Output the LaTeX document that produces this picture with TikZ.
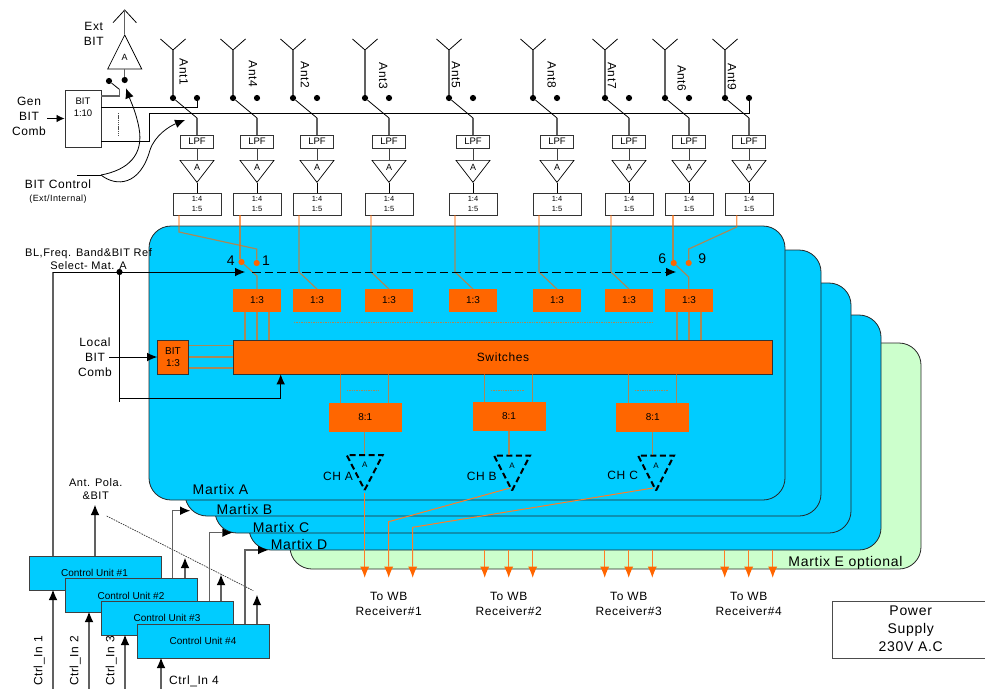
\documentclass[tikz,border=0pt]{standalone}
\usepackage{fontspec}
\setmainfont{Liberation Sans}
\newfontfamily\widefont[LetterSpace=5]{Liberation Sans}
\usepackage{xcolor}
\usetikzlibrary{shapes.geometric,arrows.meta,positioning,calc}
\definecolor{matblue}{HTML}{00CCFF}
\definecolor{matgreen}{HTML}{CCFFCC}
\definecolor{boxorange}{HTML}{FF6600}
\newcommand{\wf}[2]{\fontsize{#1}{#2}\widefont}
\newcommand{\pf}[2]{\fontsize{#1}{#2}\selectfont}

\begin{document}
\begin{tikzpicture}[
  x=1pt,y=-1pt,
  font=\pf{10}{12},
  matbox/.style={draw=black!85,line width=.8pt,rounded corners=22pt,inner sep=0pt},
  whitebox/.style={draw=black!80,line width=.9pt,fill=white,align=center,inner sep=0pt},
  lpf/.style={whitebox,minimum width=33pt,minimum height=13pt,font=\pf{9.5}{11}},
  splitbox/.style={whitebox,minimum width=48pt,minimum height=22pt,font=\pf{7.5}{9.7}},
  tapbox/.style={fill=boxorange,align=center,inner sep=0pt,minimum width=48.5pt,minimum height=22.5pt},
  mixbox/.style={fill=boxorange,inner sep=0pt,minimum width=73pt,minimum height=29pt},
  ctrlbox/.style={draw=black!75,line width=.9pt,fill=matblue,inner sep=0pt,minimum width=132pt,minimum height=34pt},
  amp/.style={draw,line width=.7pt,isosceles triangle,isosceles triangle stretches,shape border rotate=270,
    minimum width=34pt,minimum height=22pt,inner sep=0pt,font=\pf{9}{9}},
  champ/.style={amp,minimum width=36pt,minimum height=35pt,line width=2pt,dash pattern=on 6pt off 3.5pt,font=\pf{8}{8}},
  dotnode/.style={circle,fill=black,inner sep=0pt,minimum size=6.2pt},
  odot/.style={circle,fill=boxorange,inner sep=0pt,minimum size=6.2pt},
  thin line/.style={line width=.8pt},
  gline/.style={draw=black!62,line width=1.1pt},
  oline/.style={draw=boxorange,draw opacity=.65,line width=1.2pt},
  odash/.style={oline,dash pattern=on 1.4pt off 1pt},
  arr/.style={-{Latex[length=10pt,width=8.5pt,fill=black,line width=0pt]}},
  outarr/.style={draw=boxorange!85!white,line width=1pt,-{Latex[length=11pt,width=9pt,fill=boxorange,line width=0pt]}},
  txt/.style={inner sep=0pt,align=center,font=\wf{12}{15}}
]
\useasboundingbox (0,0) rectangle (985,688);

% five matrices, back to front
\node[matbox,fill=matgreen,minimum width=631pt,minimum height=226pt] (matE) at (605.5,456) {};
\node[matbox,fill=matblue,minimum width=632pt,minimum height=235pt] (matD) at (565,432.5) {};
\node[matbox,fill=matblue,minimum width=636pt,minimum height=250pt] (matC) at (533,408) {};
\node[matbox,fill=matblue,minimum width=636pt,minimum height=266pt] (matB) at (503,383) {};
\node[matbox,fill=matblue,minimum width=636pt,minimum height=274pt] (matA) at (467,363) {};
\node[txt,font=\wf{14}{15}] (labA) at (220.5,489) {Martix A};
\node[txt,font=\wf{14}{15}] (labB) at (244.5,509) {Martix B};
\node[txt,font=\wf{14}{15}] (labC) at (281,527) {Martix C};
\node[txt,font=\wf{14}{15}] (labD) at (299,544) {Martix D};
\node[txt,font=\wf{14}{15}] (labE) at (845.5,563) {Martix E optional};

% antenna columns
\foreach \n/\c/\lx/\ly in {1/197/183.7/72,4/257/253/74,2/317/305/74.7,3/389/383.3/75.7,5/473/456/74.7,8/557/551.7/75,7/629/612/75.5,6/689/681.7/78.3,9/749/732/77}{
  \coordinate (ant\n) at (\c-24,50);
  \node[dotnode] (dl\n) at (\c-24,98) {};
  \node[dotnode] (dr\n) at (\c,98) {};
  \coordinate (arm\n) at (\c,118);
  \node[lpf] (lpf\n) at (\c,141.5) {LPF};
  \node[amp,anchor=lower side] (amp\n) at (\c,160) {\raisebox{2.5pt}{A}};
  \node[splitbox] (split\n) at (\c,204) {1:4\\1:5};
  \node[txt,rotate=-90] (antlab\n) at (\lx,\ly) {Ant\n};
  \draw[thin line] (ant\n) -- ++(-12.5,-11) (ant\n) -- ++(12.5,-11);
  \draw[gline] (ant\n) -- (dl\n);
  \draw[thin line] (dl\n) -- (arm\n);
  \draw[gline] (arm\n) -- (lpf\n);
  \draw[thin line,black!75] (lpf\n) -- (amp\n.lower side);
  \draw[thin line] (amp\n.apex) -- (split\n);
}

% test source
\coordinate (extant) at (124.7,10);
\node[amp,shape border rotate=90,anchor=apex,minimum height=34pt] (extamp) at (124.7,34) {\raisebox{2.5pt}{A}};
\node[dotnode] (extl) at (109,81) {};
\node[dotnode] (extr) at (124.7,80) {};
\node[whitebox,minimum width=36pt,minimum height=57pt,font=\pf{9.5}{11.7}] (bitgen) at (83,118.5) {BIT\\1:10\\[11pt]};
\node[txt] (extlab) at (93.7,34) {Ext\\BIT};
\node[txt] (genlab) at (29,116.7) {Gen\\BIT\\Comb};
\node[txt] (ctrllab) at (58,184.7) {BIT Control};
\node[txt,font=\wf{9}{10}] (ctrlsub) at (58,198.7) {(Ext/Internal)};
\coordinate (genin) at (47.3,118.5);
\coordinate (ctrlin) at (77,175);
\coordinate (ctrlfork) at (101,175);
\coordinate (extarm) at (119.3,89.3);
\coordinate (extbend) at (119.3,96);
\coordinate (toright1) at (101,107.5);
\coordinate (toright2) at (101,141.7);
\coordinate (busin) at (149,141.7);
\coordinate (bustop) at (149,113);
\coordinate (busend) at (749,113);
\coordinate (dot1) at (118.5,113);
\coordinate (dot2) at (118.5,136);
\draw[thin line] (extant) ++(-11.7,12.7) -- (extant) -- ++(11.7,12.7);
\draw[gline] (extant) -- (extamp.apex);
\draw[gline] (extamp.lower side) -- (extr);
\draw[thin line] (extl) -- (extarm);
\draw[gline] (extarm) -- (extbend) -- (extbend-|bitgen.east);
\draw[thin line] (toright1) -| (dr1);
\draw[thin line] (toright2) -- (busin) -- (bustop) -- (busend) -- (dr9);
\draw[thin line,-{Latex[length=8pt,width=7.5pt]}] (genin) -- (bitgen);
\draw[black!70,line width=.7pt,dash pattern=on 1.3pt off .9pt] (dot1) -- (dot2);
\draw[thin line] (ctrlin) -- (ctrlfork);
\draw[thin line,arr] (ctrlfork) .. controls (128,170) and (144,155) .. (139,128) .. controls (136,112) and (131,102) .. (126,88.3);
\draw[thin line,arr] (ctrlfork) .. controls (116,187) and (140,186) .. (150,150) .. controls (155,135) and (170,126) .. (185,120);

% matrix A signal path
\node[tapbox] (tap1) at (257,300.5) {1:3};
\node[tapbox] (tap6) at (689,300.5) {1:3};
\node[odot] (pin4) at (241.5,262) {};
\node[odot] (pin1) at (256.7,263) {};
\node[odot] (pin6) at (673.7,263) {};
\node[odot] (pin9) at (688.7,263) {};
\node[txt,font=\pf{14}{15}] (num4) at (230.7,261) {4};
\node[txt,font=\pf{14}{15}] (num1) at (266,261) {1};
\node[txt,font=\pf{14}{15}] (num6) at (662.3,259) {6};
\node[txt,font=\pf{14}{15}] (num9) at (702.3,259) {9};
\coordinate (s1) at (179,215);
\coordinate (b1) at (179,232);
\coordinate (c1) at (256.7,249);
\coordinate (s4) at (240,215);
\coordinate (c4) at (240,259);
\coordinate (s6) at (673,215);
\coordinate (c6) at (673,260);
\coordinate (s9) at (736.7,215);
\coordinate (b9) at (736.7,227);
\coordinate (c9) at (688.7,249);
\coordinate (armA) at (257,276);
\coordinate (armF) at (688.7,277);
\draw[oline] (s1) -- (b1) -- (c1) -- (pin1);
\draw[oline] (s9) -- (b9) -- (c9) -- (pin9);
\draw[oline] (s4) -- (c4);
\draw[oline] (s6) -- (c6);
\draw[oline] (pin4) -- (armA) -- (tap1);
\draw[oline] (pin6) -- (armF) -- (tap6);
\foreach \n/\c in {2/317,3/389,5/473,8/557,7/629}{
  \node[tapbox] (tap\n) at (\c,300.5) {1:3};
  \draw[oline] (\c-18,215) -- (\c-18,272) -- (tap\n.north);
}
\foreach \x in {245,257,269,677,689,701}{
  \draw[oline] (\x,312) -- (\x,340);
}
\foreach \y in {345.5,357,368}{
  \draw[oline] (188.5,\y) -- (233,\y);
}
\node[fill=boxorange,draw=black!80,line width=.9pt,minimum width=539pt,minimum height=34pt,inner sep=0pt,font=\wf{12}{13}] (switches) at (503,357) {Switches};
\node[fill=boxorange,draw=black!80,line width=.9pt,minimum width=31pt,minimum height=34pt,inner sep=0pt,align=center,font=\pf{10}{12}] (bitloc) at (173,357) {BIT\\1:3};
\draw[odash] (294,322.7) -- (653,322.7);
\node[mixbox] (mix1) at (365.3,417.5) {8:1};
\node[mixbox] (mix2) at (509,416.5) {8:1};
\node[mixbox] (mix3) at (652.8,417.5) {8:1};
\foreach \x in {340.7,388.7,484.7,532.7,628.7,676.7}{
  \draw[oline] (\x,374) -- (\x,403);
}
\draw[odash] (346.7,390.7) -- (380,390.7);
\draw[odash] (491,390.7) -- (524,390.7);
\draw[odash] (635,390.7) -- (668,390.7);
\node[champ,anchor=lower side] (chA) at (364.7,454) {\raisebox{1.5pt}{A}};
\node[champ,anchor=lower side] (chB) at (512,454.5) {\raisebox{1.5pt}{A}};
\node[champ,anchor=lower side] (chC) at (656,454.5) {\raisebox{1.5pt}{A}};
\node[txt] (chlabA) at (338,476) {CH A};
\node[txt] (chlabB) at (481.7,476.5) {CH B};
\node[txt] (chlabC) at (622.7,475.7) {CH C};
\draw[oline] (mix1.south-|chA.lower side) -- (chA.lower side);
\draw[oline] (mix2.south) -- (mix2.south|-chB.lower side);
\draw[oline] (mix3.south) -- (mix3.south|-chC.lower side);

% outputs
\node[txt] (rx1) at (388.7,603.5) {To WB\\Receiver\#1};
\node[txt] (rx2) at (508.7,603.5) {To WB\\Receiver\#2};
\node[txt] (rx3) at (628.7,603.5) {To WB\\Receiver\#3};
\node[txt] (rx4) at (748.7,603.5) {To WB\\Receiver\#4};
\coordinate (outB) at (388.7,521.7);
\coordinate (outC) at (412.7,527.3);
\draw[outarr] (chA.apex) -- (364.7,577.5);
\draw[outarr] (510,488) -- (outB) -- (388.7,577.5);
\draw[outarr] (653,488) -- (outC) -- (412.7,577.5);
\foreach \x in {484.7,508.7,532.7,604.7,628.7,652.3,724.7,748.7,772.7}{
  \draw[outarr] (\x,550) -- (\x,577.5);
}

% control units and their lines
\node[ctrlbox] (cu1) at (95,573) {};
\node[inner sep=0pt] (culab1) at (94.5,572.7) {Control Unit \#1};
\node[txt,font=\wf{11}{13}] (bllab) at (88.5,259) {BL,Freq. Band\&BIT Ref\\Select- Mat. A};
\node[txt,font=\wf{11}{13}] (polalab) at (95.7,488.7) {Ant. Pola.\\\&BIT};
\node[txt] (loclab) at (95,357) {Local\\BIT\\Comb};
\node[dotnode] (junc) at (119.5,272) {};
\coordinate (seltop) at (53,272);
\coordinate (selarr) at (245,272);
\coordinate (dashin) at (252,272);
\coordinate (dashout) at (676,272);
\coordinate (juncend) at (119.5,401.5);
\coordinate (juncbend) at (119.5,398);
\coordinate (swin) at (280.7,398);
\coordinate (locin) at (109,357);
\draw[gline] (cu1.north-|seltop) -- (seltop);
\draw[thin line,arr] (seltop) -- (selarr);
\draw[thin line,arr,dash pattern=on 8.5pt off 4pt] (dashin) -- (dashout);
\draw[thin line] (junc) -- (juncend);
\draw[thin line,arr] (juncbend) -- (swin) -- (swin|-switches.south);
\draw[thin line,arr] (locin) -- (bitloc);
\draw[gline,arr] (95,556) -- (95,505);
\node[ctrlbox] (cu2) at (131,595) {};
\node[inner sep=0pt] (culab2) at (131,595.5) {Control Unit \#2};
\node[ctrlbox] (cu3) at (167,618) {};
\node[inner sep=0pt] (culab3) at (167,617.5) {Control Unit \#3};
\node[ctrlbox] (cu4) at (203,641) {};
\node[inner sep=0pt] (culab4) at (203,640.5) {Control Unit \#4};
\coordinate (dotA) at (106.7,516);
\coordinate (dotB) at (253.3,590.7);
\draw[black!80,line width=.7pt,dash pattern=on 1.6pt off 1pt] (dotA) -- (dotB);
\draw[gline,arr] (172.7,578) |- (190,510.7);
\draw[gline,arr] (209.3,601) |- (232.3,532.7);
\draw[gline,arr] (245,624) |- (268,550);
\draw[gline,arr] (185,578) -- (185,558);
\draw[gline,arr] (221,601) -- (221,575);
\draw[gline,arr] (257,624) -- (257,595);
\draw[gline,arr] (53,690) -- (53,590);
\draw[gline,arr] (89,690) -- (89,612);
\draw[gline,arr] (125,690) -- (125,635);
\draw[gline,arr] (161,690) -- (161,658);
\node[txt,rotate=90] (inlab1) at (39.3,661) {Ctrl\_In 1};
\node[txt,rotate=90] (inlab2) at (75.3,661) {Ctrl\_In 2};
\node[txt,rotate=90] (inlab3) at (111.3,661) {Ctrl\_In 3};
\node[txt] (inlab4) at (194,681.7) {Ctrl\_In 4};

% power supply
\node[whitebox,draw=black!70,minimum width=160pt,minimum height=57pt] (power) at (912.7,629.5) {};
\node[txt,font=\wf{14}{18}] (powlab) at (910.7,629) {Power\\Supply\\230V A.C};
\end{tikzpicture}
\end{document}
